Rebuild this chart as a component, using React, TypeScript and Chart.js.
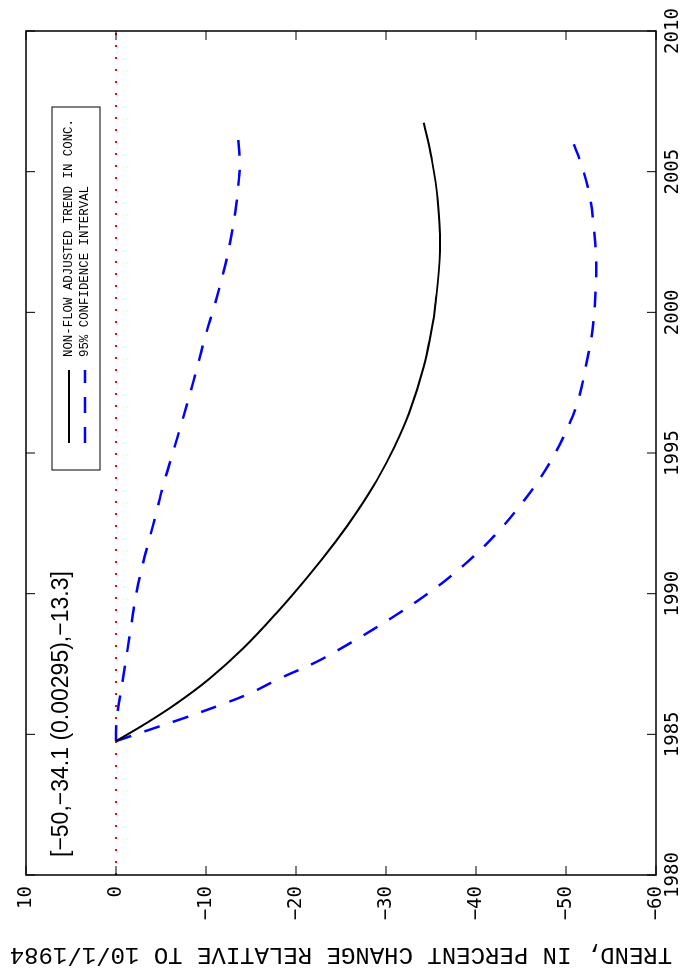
import React, { useEffect, useRef } from "react";
import { Chart, registerables } from "chart.js";

Chart.register(...registerables);

// ---- data ----
const yearTicks = [1980, 1985, 1990, 1995, 2000, 2005, 2010];
const trendTicks = [10, 0, -10, -20, -30, -40, -50, -60];

const trendYears = [1984.76, 1985.33, 1986.1, 1986.99, 1988.06, 1989.3, 1990.6, 1991.85, 1992.92, 1994.04, 1995.23, 1996.41, 1998.07, 1999.37, 2000.16, 2002.18, 2003.97, 2005.5, 2006.74];
const trendValues = [0, -3.03, -6.74, -10.44, -14.14, -17.8, -21.3, -24.4, -26.8, -29.0, -30.95, -32.55, -34.2, -35.05, -35.45, -36.0, -35.75, -35.05, -34.19];

const upperYears = [1984.76, 1985.51, 1987.05, 1988.59, 1990.01, 1991.08, 1992.03, 1992.92, 1993.92, 1994.87, 1996.17, 1997.38, 1998.0, 1999.2, 2000.27, 2001.47, 2002.42, 2003.62, 2004.81, 2005.28, 2006.3];
const upperValues = [0, -0.07, -0.81, -1.56, -2.25, -3.0, -3.78, -4.52, -5.3, -6.19, -7.38, -8.46, -8.98, -9.97, -10.97, -11.97, -12.63, -13.28, -13.68, -13.75, -13.55];

const lowerYears = [1984.76, 1985.21, 1985.57, 1986.04, 1986.46, 1986.99, 1987.58, 1988.24, 1988.77, 1989.3, 1989.89, 1990.6, 1991.32, 1992.15, 1992.98, 1993.92, 1994.87, 1995.82, 1996.89, 1998.07, 1999.37, 2000.87, 2001.82, 2003.02, 2004.21, 2005.17, 2006.36];
const lowerValues = [0, -4.15, -7.48, -11.56, -14.89, -18.22, -22.3, -26.0, -28.78, -31.4, -34.15, -37.11, -39.7, -42.3, -44.52, -46.74, -48.59, -50.07, -51.37, -52.2, -52.95, -53.3, -53.35, -53.1, -52.58, -51.79, -50.39];

const zeroYears = [1980, 2010];
const zeroValues = [0, 0];

const seriesLabels = ["NON-FLOW ADJUSTED TREND IN CONC.", "95% CONFIDENCE INTERVAL"];
const annotationText = "[\u221250,\u221234.1 (0.00295),\u221213.3]";
const yTitle = "TREND, IN PERCENT CHANGE RELATIVE TO 10/1/1984";

const pts = (xs: number[], ys: number[]) => xs.map((x, i) => ({ x, y: ys[i] }));
const fmt = (v: number) => (v < 0 ? "\u2212" + Math.abs(v) : String(v));

const BLUE = "#0000ff";
const DASH = [16, 14];

const framePlugin = {
  id: "matlabFrame",
  afterDatasetsDraw(chart: any) {
    const { ctx, chartArea: a, scales } = chart;
    const x = scales.x;
    const y = scales.y;
    ctx.save();
    // frame
    ctx.strokeStyle = "#000";
    ctx.lineWidth = 1.5;
    ctx.setLineDash([]);
    ctx.strokeRect(a.left, a.top, a.right - a.left, a.bottom - a.top);
    // inward ticks on all sides
    ctx.lineWidth = 1;
    ctx.beginPath();
    const tl = 9;
    for (const v of yearTicks) {
      const px = x.getPixelForValue(v);
      ctx.moveTo(px, a.bottom);
      ctx.lineTo(px, a.bottom - tl);
      ctx.moveTo(px, a.top);
      ctx.lineTo(px, a.top + tl);
    }
    for (const v of trendTicks) {
      const py = y.getPixelForValue(v);
      ctx.moveTo(a.left, py);
      ctx.lineTo(a.left + tl, py);
      ctx.moveTo(a.right, py);
      ctx.lineTo(a.right - tl, py);
    }
    ctx.stroke();

    // annotation text
    ctx.fillStyle = "#000";
    ctx.font = '23px "Liberation Sans", Arial, sans-serif';
    ctx.textAlign = "left";
    ctx.textBaseline = "alphabetic";
    ctx.fillText(annotationText, a.left + 18, a.top + 42);

    // legend box
    const bx = a.left + 405;
    const bw = a.right - 76 - bx;
    const by = a.top + 26;
    const bh = 48;
    ctx.fillStyle = "#fff";
    ctx.fillRect(bx, by, bw, bh);
    ctx.strokeStyle = "#000";
    ctx.lineWidth = 1;
    ctx.strokeRect(bx, by, bw, bh);
    const rows = [by + 17, by + 33];
    const styles = [
      { color: "#000", width: 2, dash: [] as number[] },
      { color: BLUE, width: 2.5, dash: DASH },
    ];
    ctx.font = '12.4px "Liberation Mono", "Courier New", monospace';
    ctx.textBaseline = "middle";
    rows.forEach((ry, i) => {
      ctx.beginPath();
      ctx.strokeStyle = styles[i].color;
      ctx.lineWidth = styles[i].width;
      ctx.setLineDash(styles[i].dash);
      ctx.moveTo(bx + 27, ry);
      ctx.lineTo(bx + 100, ry);
      ctx.stroke();
      ctx.setLineDash([]);
      ctx.fillStyle = "#000";
      ctx.fillText(seriesLabels[i], bx + 113, ry);
    });
    ctx.restore();
  },
};

export default function App() {
  const ref = useRef<HTMLCanvasElement>(null);
  useEffect(() => {
    const chart = new Chart(ref.current as HTMLCanvasElement, {
      type: "line",
      data: {
        datasets: [
          {
            label: seriesLabels[0],
            data: pts(trendYears, trendValues),
            borderColor: "#000",
            borderWidth: 2,
            pointRadius: 0,
            tension: 0.4,
            fill: false,
          },
          {
            label: seriesLabels[1],
            data: pts(upperYears, upperValues),
            borderColor: BLUE,
            borderWidth: 2.5,
            borderDash: DASH,
            pointRadius: 0,
            tension: 0.4,
            fill: false,
          },
          {
            label: "lower",
            data: pts(lowerYears, lowerValues),
            borderColor: BLUE,
            borderWidth: 2.5,
            borderDash: DASH,
            pointRadius: 0,
            tension: 0.4,
            fill: false,
          },
          {
            label: "zero",
            data: pts(zeroYears, zeroValues),
            borderColor: "#ff0000",
            borderWidth: 2,
            borderDash: [2, 10],
            pointRadius: 0,
            fill: false,
          },
        ],
      } as any,
      options: {
        animation: false,
        responsive: false,
        devicePixelRatio: 1,
        layout: { padding: { left: 0, right: 31, top: 26, bottom: 0 } },
        plugins: { legend: { display: false }, tooltip: { enabled: false } },
        scales: {
          x: {
            type: "linear",
            position: "bottom",
            min: 1980,
            max: 2010,
            grid: { display: false, drawTicks: false },
            border: { display: false },
            afterBuildTicks: (s: any) => {
              s.ticks = yearTicks.map((v) => ({ value: v }));
            },
            afterFit: (s: any) => {
              s.height = 28;
            },
            ticks: {
              autoSkip: false,
              maxRotation: 0,
              minRotation: 0,
              padding: 6,
              color: "#000",
              font: { family: '"DejaVu Sans Mono", monospace', size: 19 },
              callback: (v: any) => String(v),
            },
          },
          y: {
            type: "linear",
            position: "left",
            min: -60,
            max: 10,
            grid: { display: false, drawTicks: false },
            border: { display: false },
            afterBuildTicks: (s: any) => {
              s.ticks = trendTicks.slice().reverse().map((v) => ({ value: v }));
            },
            afterFit: (s: any) => {
              s.width = 95;
            },
            ticks: {
              autoSkip: false,
              padding: 11,
              color: "#000",
              font: { family: '"DejaVu Sans Mono", monospace', size: 19 },
              callback: (v: any) => fmt(Number(v)),
            },
            title: {
              display: true,
              text: yTitle,
              color: "#000",
              padding: { top: 1, bottom: 0 },
              font: { family: '"Liberation Mono", "Courier New", monospace', size: 24 },
            },
          },
        },
      } as any,
      plugins: [framePlugin],
    });
    return () => chart.destroy();
  }, []);

  return (
    <div style={{ position: "fixed", left: 0, top: 0, width: 684, height: 970, overflow: "hidden", background: "#fff" }}>
      <div
        style={{
          position: "absolute",
          left: 0,
          top: 0,
          width: 970,
          height: 684,
          transformOrigin: "0 0",
          transform: "translateY(970px) rotate(-90deg)",
        }}
      >
        <canvas ref={ref} width={970} height={684} style={{ display: "block", width: 970, height: 684 }} />
      </div>
    </div>
  );
}
